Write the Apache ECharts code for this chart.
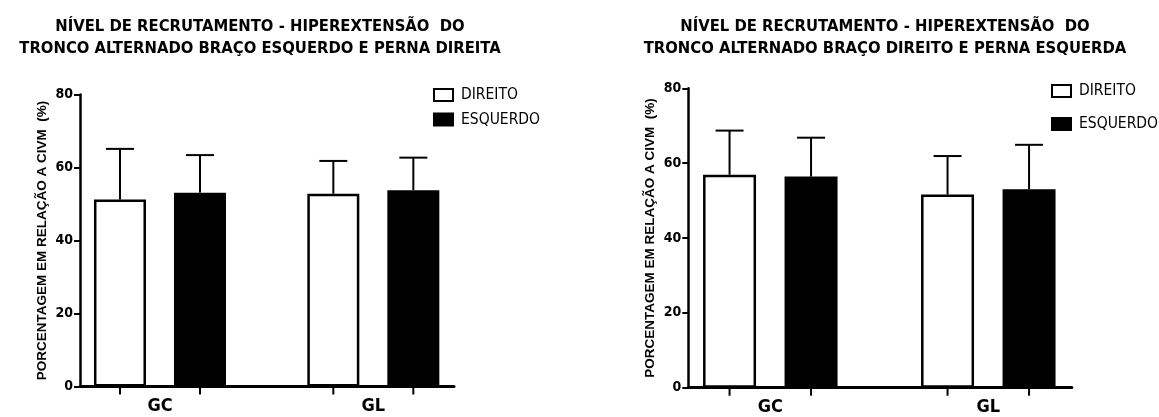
<!DOCTYPE html>
<html>
<head>
<meta charset="utf-8">
<script src="https://cdn.jsdelivr.net/npm/echarts@6/dist/echarts.min.js"></script>
<style>
  html, body { margin: 0; padding: 0; background: #fff; }
  #chart { width: 1159px; height: 417px; }
</style>
</head>
<body>
<div id="chart"></div>
<script>
var categories = ['GC', 'GL'];
var seriesNames = ['DIREITO', 'ESQUERDO'];

// left panel: braço esquerdo e perna direita
var leftDireito = [51.2, 52.8];
var leftDireitoSd = [13.9, 9.0];
var leftEsquerdo = [53.1, 53.8];
var leftEsquerdoSd = [10.3, 8.9];

// right panel: braço direito e perna esquerda
var rightDireito = [56.9, 51.6];
var rightDireitoSd = [11.8, 10.3];
var rightEsquerdo = [56.4, 53.0];
var rightEsquerdoSd = [10.4, 11.9];

var yTicks = [0, 20, 40, 60, 80];

var titles = [
    'NÍVEL DE RECRUTAMENTO - HIPEREXTENSÃO  DO\nTRONCO ALTERNADO BRAÇO ESQUERDO E PERNA DIREITA',
    'NÍVEL DE RECRUTAMENTO - HIPEREXTENSÃO  DO\nTRONCO ALTERNADO BRAÇO DIREITO E PERNA ESQUERDA'
];
var yName = 'PORCENTAGEM EM RELAÇÃO A CIVM  (%)';

var NARROW = '"DejaVu Sans Condensed", sans-serif';
var WIDE = '"Liberation Sans", Arial, sans-serif';

// panel geometry
var panels = [
    { axisLeft: 80, axisWidth: 374, dataLeft: 53.3, dataWidth: 426.7, top: 94.5, height: 292,
      barWidth: 52, barGap: 28, titleX: 255, legendLeft: 428, legendTop: 82, legendGap: 8.5 },
    { axisLeft: 688.3, axisWidth: 383.5, dataLeft: 661.3, dataWidth: 436, top: 88.3, height: 299.4,
      barWidth: 53, barGap: 28.5, titleX: 880, legendLeft: 1046, legendTop: 78, legendGap: 17 }
];

function errorSeries(gridIdx, means, sds, offset) {
    var data = means.map(function (m, i) {
        return [i, m, m + sds[i]];
    });
    return {
        type: 'custom',
        xAxisIndex: gridIdx,
        yAxisIndex: gridIdx,
        z: 5,
        silent: true,
        data: data,
        renderItem: function (params, api) {
            var c = api.coord([api.value(0), api.value(1)]);
            var t = api.coord([api.value(0), api.value(2)]);
            var b = api.coord([api.value(0), 0]);
            var x = c[0] + offset;
            var st = { stroke: '#000', lineWidth: 2 };
            return {
                type: 'group',
                children: [
                    { type: 'line', shape: { x1: x, y1: c[1], x2: x, y2: t[1] }, style: st },
                    { type: 'line', shape: { x1: x - 14, y1: t[1], x2: x + 14, y2: t[1] }, style: st },
                    { type: 'line', shape: { x1: x, y1: b[1], x2: x, y2: b[1] + 8 }, style: st }
                ]
            };
        }
    };
}

var option = {
    backgroundColor: '#fff',
    animation: false,
    title: [],
    legend: [],
    grid: [],
    xAxis: [],
    yAxis: [],
    series: []
};

var panelData = [
    [leftDireito, leftDireitoSd, leftEsquerdo, leftEsquerdoSd],
    [rightDireito, rightDireitoSd, rightEsquerdo, rightEsquerdoSd]
];

panels.forEach(function (p, k) {
    var d = panelData[k];
    var axisIdx = k * 2;      // axis lines, y labels
    var dataIdx = k * 2 + 1;  // bars and category labels
    var half = (p.barWidth + p.barGap) / 2;

    option.title.push({
        text: titles[k],
        left: p.titleX,
        top: 11,
        textAlign: 'center',
        textStyle: { fontFamily: NARROW, fontSize: 16.5, fontWeight: 'bold', color: '#000', lineHeight: 22 }
    });

    option.legend.push({
        data: seriesNames.slice(),
        orient: 'vertical',
        left: p.legendLeft,
        top: p.legendTop,
        icon: 'rect',
        itemWidth: 19,
        itemHeight: 12,
        itemGap: p.legendGap,
        selectedMode: false,
        textStyle: { fontFamily: NARROW, fontSize: 15.5, color: '#000', padding: [0, 0, 0, 3] }
    });

    option.grid.push({ left: p.axisLeft, top: p.top, width: p.axisWidth, height: p.height, containLabel: false });
    option.grid.push({ left: p.dataLeft, top: p.top, width: p.dataWidth, height: p.height, containLabel: false });

    option.xAxis.push({
        type: 'category', gridIndex: axisIdx, data: categories,
        axisLine: { lineStyle: { color: '#000', width: 3 } },
        axisTick: { show: false }, axisLabel: { show: false }, splitLine: { show: false }
    });
    option.xAxis.push({
        type: 'category', gridIndex: dataIdx, data: categories,
        axisLine: { show: false }, axisTick: { show: false }, splitLine: { show: false },
        axisLabel: { fontFamily: NARROW, fontSize: 18, fontWeight: 'bold', color: '#000', margin: 11 }
    });

    option.yAxis.push({
        type: 'value', gridIndex: axisIdx, min: yTicks[0], max: yTicks[yTicks.length - 1], interval: 20,
        name: yName, nameLocation: 'middle', nameGap: 31,
        nameTextStyle: { fontFamily: WIDE, fontSize: 13.5, fontWeight: 'bold', color: '#000' },
        axisLine: { show: true, lineStyle: { color: '#000', width: 2.5 } },
        axisTick: { show: true, length: 6, lineStyle: { color: '#000', width: 2 } },
        axisLabel: { fontFamily: NARROW, fontSize: 14, fontWeight: 'bold', color: '#000', margin: 7 },
        splitLine: { show: false }
    });
    option.yAxis.push({
        type: 'value', gridIndex: dataIdx, min: yTicks[0], max: yTicks[yTicks.length - 1], show: false
    });

    option.series.push({
        name: seriesNames[0], type: 'bar', xAxisIndex: dataIdx, yAxisIndex: dataIdx,
        data: d[0], barWidth: p.barWidth, barGap: (p.barGap / p.barWidth * 100) + '%',
        itemStyle: { color: '#fff', borderColor: '#000', borderWidth: 2.5 }
    });
    option.series.push({
        name: seriesNames[1], type: 'bar', xAxisIndex: dataIdx, yAxisIndex: dataIdx,
        data: d[2], barWidth: p.barWidth, barGap: (p.barGap / p.barWidth * 100) + '%',
        itemStyle: { color: '#000', borderColor: '#000', borderWidth: 2.5 }
    });
    option.series.push(errorSeries(dataIdx, d[0], d[1], -half));
    option.series.push(errorSeries(dataIdx, d[2], d[3], half));
});

var chart = echarts.init(document.getElementById('chart'));
chart.setOption(option);
</script>
</body>
</html>
